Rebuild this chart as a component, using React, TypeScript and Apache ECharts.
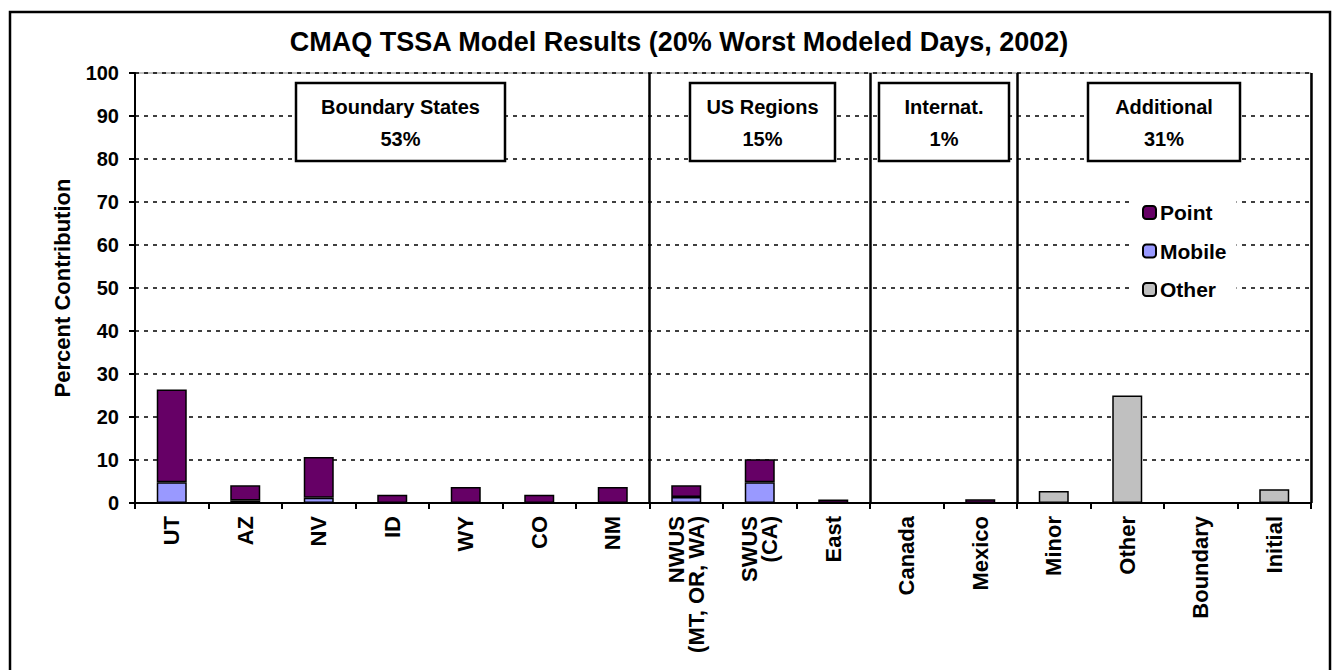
import React, { useEffect, useRef } from "react";
import * as echarts from "echarts";

const categories = [
  "UT", "AZ", "NV", "ID", "WY", "CO", "NM",
  "NWUS\n(MT, OR, WA)", "SWUS\n(CA)", "East",
  "Canada", "Mexico",
  "Minor", "Other", "Boundary", "Initial",
];
const mobileValues = [4.8, 0.6, 1.2, null, null, null, null, 1.4, 4.8, null, null, null, null, null, null, null];
const pointValues = [21.6, 3.5, 9.5, 1.9, 3.7, 1.9, 3.7, 2.7, 5.4, 0.8, null, 0.85, null, null, null, null];
const otherValues = [null, null, null, null, null, null, null, null, null, null, null, null, 2.8, 25.0, null, 3.2];
const groupStartIndices = [7, 10, 12];
const boxTitles = ["Boundary States", "US Regions", "Internat.", "Additional"];
const boxPercents = ["53%", "15%", "1%", "31%"];

const titleText = "CMAQ TSSA Model Results (20% Worst Modeled Days, 2002)";
const yAxisName = "Percent Contribution";

const FONT = "Liberation Sans";
const boxLayout = [
  { x: 296, w: 209 },
  { x: 690, w: 145 },
  { x: 879, w: 130 },
  { x: 1088, w: 152 },
];

export default function App() {
  const ref = useRef<HTMLDivElement>(null);
  useEffect(() => {
    if (!ref.current) return;
    const chart = echarts.init(ref.current, undefined, { renderer: "svg" });
    const boxY = 83;
    const boxH = 78;
    const graphics: any[] = [
      {
        type: "rect",
        shape: { x: 10, y: 12, width: 1320, height: 700 },
        style: { fill: "none", stroke: "#000", lineWidth: 2.5 },
        z: 100,
      },
    ];
    boxLayout.forEach((b, i) => {
      graphics.push({
        type: "rect",
        shape: { x: b.x, y: boxY, width: b.w, height: boxH },
        style: { fill: "#fff", stroke: "#000", lineWidth: 2.5 },
        z: 100,
      });
      graphics.push({
        type: "text",
        x: b.x + b.w / 2,
        y: 107,
        style: {
          text: boxTitles[i],
          fontFamily: FONT,
          fontWeight: "bold",
          fontSize: 20,
          fill: "#000",
          align: "center",
          verticalAlign: "middle",
        },
        z: 101,
      });
      graphics.push({
        type: "text",
        x: b.x + b.w / 2,
        y: 139,
        style: {
          text: boxPercents[i],
          fontFamily: FONT,
          fontWeight: "bold",
          fontSize: 20,
          fill: "#000",
          align: "center",
          verticalAlign: "middle",
        },
        z: 101,
      });
    });
    graphics.push({
      type: "text",
      x: 679,
      y: 42,
      style: {
        text: titleText,
        fontFamily: FONT,
        fontWeight: "bold",
        fontSize: 27,
        fill: "#000",
        align: "center",
        verticalAlign: "middle",
      },
      z: 101,
    });

    const barBorder = { borderColor: "#000", borderWidth: 1.5 };
    chart.setOption({
      animation: false,
      backgroundColor: "#fff",
      textStyle: { fontFamily: FONT },
      grid: {
        left: 135,
        right: 22,
        top: 73,
        bottom: 167,
        show: true,
        borderColor: "#808080",
        borderWidth: 1,
        backgroundColor: "transparent",
      },
      legend: {
        data: ["Point", "Mobile", "Other"],
        orient: "vertical",
        left: 1134,
        top: 198,
        itemWidth: 13,
        itemHeight: 13,
        itemGap: 17.5,
        padding: [4, 10, 4, 8],
        backgroundColor: "#fff",
        z: 50,
        textStyle: { fontFamily: FONT, fontWeight: "bold", fontSize: 21, color: "#000", padding: [0, 0, 0, -1] },
      },
      xAxis: {
        type: "category",
        data: categories,
        boundaryGap: true,
        axisLine: { show: true, lineStyle: { color: "#000", width: 2 } },
        axisTick: { show: true, length: 6, interval: 0, lineStyle: { color: "#000", width: 2 } },
        axisLabel: {
          interval: 0,
          rotate: 90,
          margin: 13,
          fontFamily: FONT,
          fontWeight: "bold",
          fontSize: 22,
          lineHeight: 20,
          color: "#000",
        },
        splitLine: {
          show: true,
          interval: (idx: number) => groupStartIndices.indexOf(idx) >= 0,
          lineStyle: { color: "#000", width: 2.5, type: "solid" },
        },
      },
      yAxis: {
        type: "value",
        min: 0,
        max: 100,
        interval: 10,
        name: yAxisName,
        nameLocation: "middle",
        nameGap: 62,
        nameTextStyle: { fontFamily: FONT, fontWeight: "bold", fontSize: 22, color: "#000" },
        axisLine: { show: true, lineStyle: { color: "#000", width: 2 } },
        axisTick: { show: true, length: 6, inside: false, lineStyle: { color: "#000", width: 2 } },
        axisLabel: { margin: 16, fontFamily: FONT, fontWeight: "bold", fontSize: 20, color: "#000" },
        splitLine: { show: true, lineStyle: { color: "#000", width: 1.5, type: [4, 5] } },
      },
      series: [
        {
          name: "Mobile",
          type: "bar",
          stack: "total",
          barWidth: 30,
          data: mobileValues,
          itemStyle: { color: "#9999FF", ...barBorder },
        },
        {
          name: "Point",
          type: "bar",
          stack: "total",
          barWidth: 30,
          data: pointValues,
          itemStyle: { color: "#660066", ...barBorder },
        },
        {
          name: "Other",
          type: "bar",
          stack: "total",
          barWidth: 30,
          data: otherValues,
          itemStyle: { color: "#C0C0C0", ...barBorder },
        },
      ],
      graphic: graphics,
    });
    return () => chart.dispose();
  }, []);
  return (
    <div
      ref={ref}
      style={{ position: "fixed", left: 0, top: 0, width: 1333, height: 670, background: "#fff" }}
    />
  );
}
